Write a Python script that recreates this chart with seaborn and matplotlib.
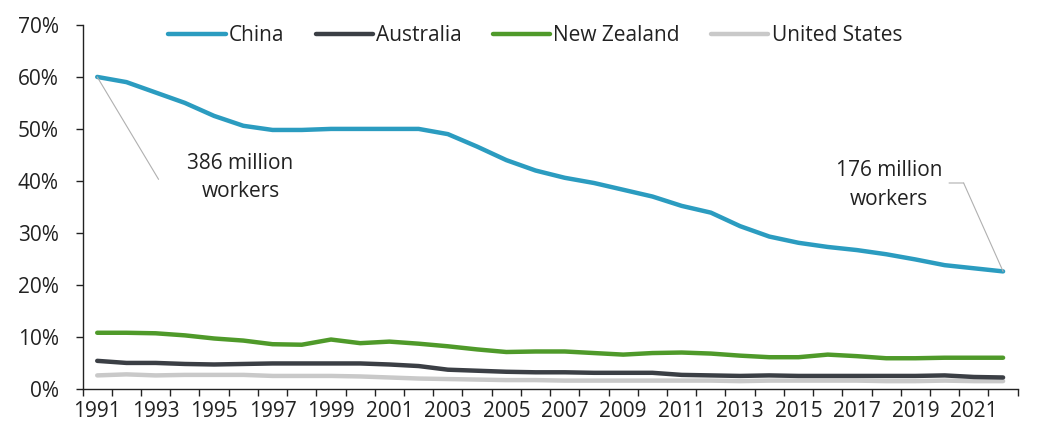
import matplotlib
matplotlib.use("Agg")
import matplotlib.pyplot as plt
import seaborn as sns
import pandas as pd
import numpy as np
from matplotlib.ticker import FuncFormatter

years = list(range(1991, 2023))

china = [60.0, 59.0, 57.0, 55.0, 52.5, 50.6, 49.8, 49.8, 50.0, 50.0, 50.0, 50.0,
         49.0, 46.6, 44.0, 42.0, 40.6, 39.6, 38.3, 37.0, 35.2, 33.9, 31.3, 29.3,
         28.1, 27.3, 26.7, 25.9, 24.9, 23.8, 23.2, 22.6]
australia = [5.4, 5.0, 5.0, 4.8, 4.7, 4.8, 4.9, 4.9, 4.9, 4.9, 4.7, 4.4,
             3.7, 3.5, 3.3, 3.2, 3.2, 3.1, 3.1, 3.1, 2.7, 2.6, 2.5, 2.6,
             2.5, 2.5, 2.5, 2.5, 2.5, 2.6, 2.3, 2.2]
new_zealand = [10.8, 10.8, 10.7, 10.3, 9.7, 9.3, 8.6, 8.5, 9.5, 8.8, 9.1, 8.7,
               8.2, 7.6, 7.1, 7.2, 7.2, 6.9, 6.6, 6.9, 7.0, 6.8, 6.4, 6.1,
               6.1, 6.6, 6.3, 5.9, 5.9, 6.0, 6.0, 6.0]
united_states = [2.6, 2.8, 2.6, 2.7, 2.7, 2.7, 2.5, 2.5, 2.5, 2.4, 2.2, 2.0,
                 1.9, 1.8, 1.7, 1.7, 1.6, 1.6, 1.6, 1.6, 1.6, 1.6, 1.5, 1.6,
                 1.6, 1.6, 1.6, 1.5, 1.5, 1.6, 1.5, 1.5]

countries = ["China", "Australia", "New Zealand", "United States"]
colors = {"China": "#2b9cc0", "Australia": "#3b3f45",
          "New Zealand": "#4f9a2a", "United States": "#c9c9c9"}

df = pd.DataFrame({"year": years * 4,
                   "share": china + australia + new_zealand + united_states,
                   "country": np.repeat(countries, len(years))})

sns.set_style("white")
plt.rcParams["font.family"] = ["Open Sans", "DejaVu Sans"]
fs = 15
txt = "#222222"
lead = "#b0b0b0"

fig = plt.figure(figsize=(10.59, 4.37), dpi=100)
ax = fig.add_axes([0.078, 0.11, 0.883, 0.833])

# draw the light lines first so china sits on top
for c in ["United States", "Australia", "New Zealand", "China"]:
    sns.lineplot(data=df[df.country == c], x="year", y="share", color=colors[c],
                 linewidth=3.2, ax=ax, label=c, legend=False)

ax.set_xlim(1990.5, 2022.5)
ax.set_ylim(0, 70)
ax.set_yticks(range(0, 71, 10))
ax.yaxis.set_major_formatter(FuncFormatter(lambda v, p: f"{v:.0f}%"))

# excel-style category axis: ticks between years, labels on odd years
ax.set_xticks(np.arange(1990.5, 2023, 1.0))
ax.set_xticklabels([])
ax.set_xticks(years[::2], minor=True)
ax.set_xticklabels([str(y) for y in years[::2]], minor=True)
ax.tick_params(axis="x", which="major", direction="out", length=5, width=1, color=txt, bottom=True)
ax.tick_params(axis="x", which="minor", length=0, pad=9, labelsize=fs, labelcolor=txt)
ax.tick_params(axis="y", direction="out", length=5, width=1, color=txt, left=True,
               pad=12, labelsize=fs, labelcolor=txt)
ax.set_xlabel("")
ax.set_ylabel("")

sns.despine(ax=ax)
for s in ["left", "bottom"]:
    ax.spines[s].set_color(txt)
    ax.spines[s].set_linewidth(1)

handles = [plt.Line2D([], [], color=colors[c], lw=3.2) for c in countries]
ax.legend(handles, countries, loc="upper center", bbox_to_anchor=(0.484, 1.05), ncol=4,
          frameon=False, fontsize=fs, handlelength=2.75, handletextpad=0.15,
          columnspacing=1.5, labelcolor=txt)

# leader lines and labels
ax.annotate("", xy=(1991, 60), xytext=(1993.1, 40.3),
            arrowprops=dict(arrowstyle="-", color=lead, lw=0.8, shrinkA=0, shrinkB=0))
ax.text(1995.9, 40.6, "386 million\nworkers", ha="center", va="center",
        fontsize=fs, color=txt, linespacing=1.45)

ax.annotate("", xy=(2022, 22.6), xytext=(2020.65, 39.6),
            arrowprops=dict(arrowstyle="-", color=lead, lw=0.8, shrinkA=0, shrinkB=0))
ax.annotate("", xy=(2020.65, 39.6), xytext=(2020.15, 39.6),
            arrowprops=dict(arrowstyle="-", color=lead, lw=0.8, shrinkA=0, shrinkB=0))
ax.text(2018.1, 39.2, "176 million\nworkers", ha="center", va="center",
        fontsize=fs, color=txt, linespacing=1.45)

fig.savefig("out.png", dpi=100)
